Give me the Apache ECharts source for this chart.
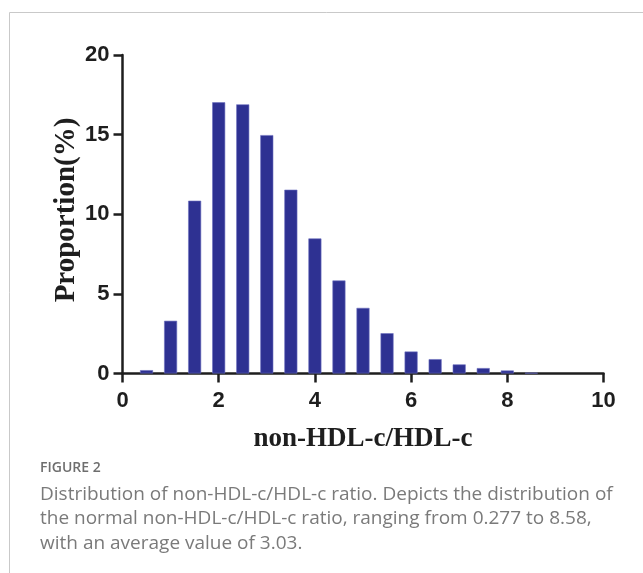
<!DOCTYPE html>
<html>
<head>
<meta charset="utf-8">
<script src="https://cdn.jsdelivr.net/npm/echarts@6/dist/echarts.min.js"></script>
<style>
html,body{margin:0;padding:0;background:#fff;}
#c{width:643px;height:573px;}
</style>
</head>
<body>
<div id="c"></div>
<script>
var binCenters = [0.5, 1.0, 1.5, 2.0, 2.5, 3.0, 3.5, 4.0, 4.5, 5.0, 5.5, 6.0, 6.5, 7.0, 7.5, 8.0, 8.5];
var proportions = [0.21, 3.31, 10.85, 17.03, 16.9, 14.97, 11.54, 8.48, 5.84, 4.12, 2.53, 1.38, 0.9, 0.57, 0.34, 0.19, 0.05];
var xTitle = 'non-HDL-c/HDL-c';
var yTitle = 'Proportion(%)';
var figLabel = 'FIGURE 2';
var captionLines = [
  'Distribution of non-HDL-c/HDL-c ratio. Depicts the distribution of',
  'the normal non-HDL-c/HDL-c ratio, ranging from 0.277 to 8.58,',
  'with an average value of 3.03.'
];

var chart = echarts.init(document.getElementById('c'), null, {renderer: 'canvas'});
var axisColor = '#1e1e1e';
var tickFont = {fontFamily: '"Liberation Sans", Arial, sans-serif', fontWeight: 'bold', fontSize: 22, color: axisColor};
var titleFont = {fontFamily: '"Liberation Serif", "Times New Roman", serif', fontWeight: 'bold', color: axisColor};

var barData = binCenters.map(function (x, i) { return [x, proportions[i]]; });

var graphics = [
  {type: 'polyline', shape: {points: [[9.5, 573], [9.5, 12.5], [643, 12.5]]}, style: {stroke: '#c9c9c9', lineWidth: 1, fill: null}},
  {type: 'text', x: 67, y: 210, rotation: Math.PI / 2,
   style: {text: yTitle, font: 'bold 29px "Liberation Serif", "Times New Roman", serif', fill: axisColor, textAlign: 'center', textVerticalAlign: 'middle'}},
  {type: 'text', left: 40, top: 461, style: {text: figLabel, font: '600 14px "Open Sans", sans-serif', fill: '#6e6e6e'}}
];
captionLines.forEach(function (t, i) {
  graphics.push({type: 'text', left: 40, top: 485 + i * 24.5, style: {text: t, font: '19px "Open Sans", sans-serif', fill: '#7a7a7a'}});
});

chart.setOption({
  animation: false,
  backgroundColor: '#ffffff',
  grid: {left: 122.5, right: 39.5, top: 55, bottom: 199.5, containLabel: false},
  xAxis: {
    type: 'value', min: 0, max: 10, interval: 2,
    name: xTitle, nameLocation: 'middle', nameGap: 52,
    nameTextStyle: Object.assign({fontSize: 27}, titleFont),
    axisLine: {show: true, onZero: false, lineStyle: {color: axisColor, width: 2.5}},
    axisTick: {show: true, length: 9, lineStyle: {color: axisColor, width: 2.5}},
    axisLabel: Object.assign({margin: 16}, tickFont),
    splitLine: {show: false}
  },
  yAxis: {
    type: 'value', min: 0, max: 20, interval: 5,
    axisLine: {show: true, lineStyle: {color: axisColor, width: 2.5}},
    axisTick: {show: true, length: 9, lineStyle: {color: axisColor, width: 2.5}},
    axisLabel: Object.assign({margin: 13}, tickFont),
    splitLine: {show: false}
  },
  series: [{
    type: 'bar',
    data: barData,
    barWidth: 13,
    itemStyle: {color: '#2e3192', borderColor: '#6d70bf', borderWidth: 0.6}
  }],
  graphic: graphics
});
</script>
</body>
</html>
